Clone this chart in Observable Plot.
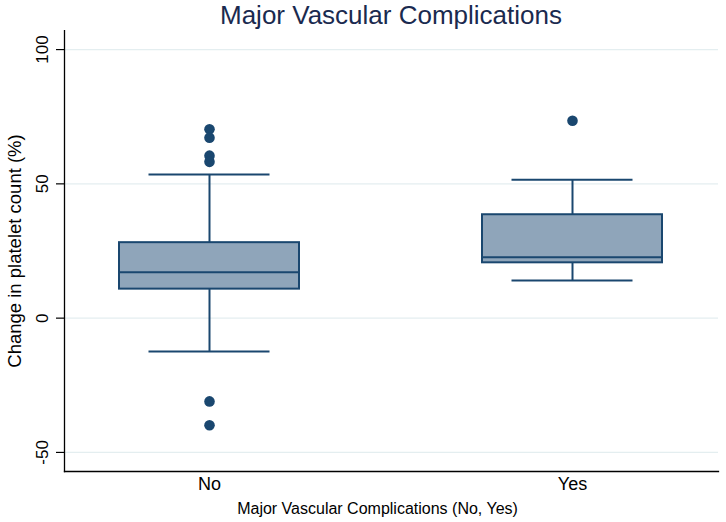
<!DOCTYPE html>
<html>
<head>
<meta charset="utf-8">
<script src="https://cdn.jsdelivr.net/npm/d3@7"></script>
<script src="https://cdn.jsdelivr.net/npm/@observablehq/plot@0.6"></script>
<style>
  html, body { margin: 0; background: #fff; overflow: hidden; font-family: "Liberation Sans", Arial, sans-serif; }
  #title { width: 726px; box-sizing: border-box; padding-left: 56px; height: 30px; line-height: 30px; text-align: center; font-size: 26px; color: #1a2a4f; white-space: nowrap; }
  #chart svg { display: block; }
</style>
</head>
<body>
<div id="title">Major Vascular Complications</div>
<div id="chart"></div>
<script>
const groups = ["No", "Yes"];
const lowerWhisker = [-12.4, 14.0];
const q1 = [10.8, 20.6];
const median = [17.1, 22.7];
const q3 = [28.1, 38.5];
const upperWhisker = [53.5, 51.5];
const outliersNo = [70.3, 67.2, 60.5, 58.2, -31.0, -39.9];
const outliersYes = [73.5];
const yTicks = [-50, 0, 50, 100];

const stats = groups.map((g, i) => ({group: g, lo: lowerWhisker[i], q1: q1[i], med: median[i], q3: q3[i], hi: upperWhisker[i]}));
const outliers = [
  ...outliersNo.map(v => ({group: "No", value: v})),
  ...outliersYes.map(v => ({group: "Yes", value: v}))
];

const navy = "#1a476f";
const fill = "#8fa5ba";

const chart = Plot.plot({
  width: 726,
  height: 492,
  marginTop: 0,
  marginLeft: 64,
  marginRight: 8,
  marginBottom: 51,
  style: {fontFamily: "'Liberation Sans', Arial, sans-serif", background: "#fff", color: "#000"},
  x: {domain: groups, paddingInner: 0.504, paddingOuter: 0.1515, label: null},
  y: {domain: [-57.1, 107.1], label: null},
  marks: [
    Plot.gridY(yTicks, {stroke: "#e4eef0", strokeOpacity: 1, strokeWidth: 1.3}),
    Plot.axisX({tickSize: 0, tickPadding: 6, fontSize: 18, label: null}),
    Plot.axisY({ticks: yTicks, tickSize: 8, tickFormat: () => "", label: null, stroke: "#000", strokeWidth: 1.2}),
    Plot.frame({anchor: "left", stroke: "#000", strokeWidth: 1.3}),
    Plot.frame({anchor: "bottom", stroke: "#000", strokeWidth: 1.3}),
    Plot.ruleX(stats, {x: "group", y1: "lo", y2: "q1", stroke: navy, strokeWidth: 2}),
    Plot.ruleX(stats, {x: "group", y1: "q3", y2: "hi", stroke: navy, strokeWidth: 2}),
    Plot.tickY(stats, {x: "group", y: "lo", stroke: navy, strokeWidth: 2, inset: 29.5}),
    Plot.tickY(stats, {x: "group", y: "hi", stroke: navy, strokeWidth: 2, inset: 29.5}),
    Plot.barY(stats, {x: "group", y1: "q1", y2: "q3", fill: fill, stroke: navy, strokeWidth: 2}),
    Plot.tickY(stats, {x: "group", y: "med", stroke: navy, strokeWidth: 2}),
    Plot.dot(outliers, {x: "group", y: "value", r: 5.3, fill: navy, stroke: "none"}),
    Plot.text(yTicks, {y: d => d, frameAnchor: "left", dx: -21.5, rotate: -90, textAnchor: "middle", lineAnchor: "middle", text: d => String(d), fontSize: 17, fill: "#000"}),
    Plot.text(["Change in platelet count (%)"], {frameAnchor: "left", dx: -49, rotate: -90, textAnchor: "middle", lineAnchor: "middle", fontSize: 18.5, fill: "#000"}),
    Plot.text(["Major Vascular Complications (No, Yes)"], {frameAnchor: "bottom", dy: 37, dx: -14, textAnchor: "middle", lineAnchor: "middle", fontSize: 16, fill: "#000"})
  ]
});
document.getElementById("chart").appendChild(chart);
</script>
</body>
</html>
